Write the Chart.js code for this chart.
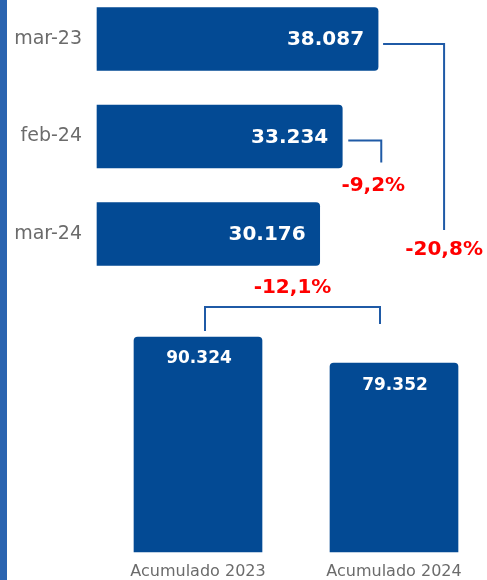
<!DOCTYPE html>
<html><head><meta charset="utf-8">
<script src="https://cdn.jsdelivr.net/npm/chart.js@4/dist/chart.umd.min.js"></script>
<style>
html,body{margin:0;padding:0;background:#fff;}
body{width:487px;height:580px;position:relative;overflow:hidden;}
#strip{position:absolute;left:0;top:0;width:7px;height:580px;background:#2a64b0;}
#c1{position:absolute;left:0;top:0;}
#c2{position:absolute;left:0;top:260px;}
</style></head><body>
<div id="strip"></div>
<canvas id="c1" width="487" height="290"></canvas>
<canvas id="c2" width="487" height="323"></canvas>
<script>
const monthLabels = ['mar-23', 'feb-24', 'mar-24'];
const monthValues = [38087, 33234, 30176];
const accLabels = ['Acumulado 2023', 'Acumulado 2024'];
const accValues = [90324, 79352];

const BAR = '#034a94';
const LINE = '#1f5aa6';
const RED = '#ff0000';
const GRAY = '#6b6b6b';

function fmtNum(v) { return String(v).replace(/\B(?=(\d{3})+(?!\d))/g, '.'); }
function fmtPct(a, b) { return ((b - a) / a * 100).toFixed(1).replace('.', ',') + '%'; }

const monthPlugin = {
  id: 'monthLabels',
  afterDatasetsDraw(chart) {
    const ctx = chart.ctx;
    const bars = chart.getDatasetMeta(0).data;
    ctx.save();
    ctx.fillStyle = '#ffffff';
    ctx.font = 'bold 20px "DejaVu Sans"';
    ctx.textAlign = 'right';
    ctx.textBaseline = 'middle';
    bars.forEach((b, i) => ctx.fillText(fmtNum(monthValues[i]), b.x - 14, b.y + 1));

    ctx.strokeStyle = LINE;
    ctx.lineWidth = 2;
    const b0 = bars[0], b1 = bars[1], b2 = bars[2];
    const xA = b0.x + 66;
    ctx.beginPath();
    ctx.moveTo(b0.x + 5, b0.y + 5);
    ctx.lineTo(xA, b0.y + 5);
    ctx.lineTo(xA, b2.y - 4);
    ctx.stroke();
    const xB = b1.x + 39;
    ctx.beginPath();
    ctx.moveTo(b1.x + 6, b1.y + 4);
    ctx.lineTo(xB, b1.y + 4);
    ctx.lineTo(xB, b1.y + 26);
    ctx.stroke();

    ctx.fillStyle = RED;
    ctx.font = 'bold 20px "DejaVu Sans"';
    ctx.textAlign = 'center';
    ctx.fillText(fmtPct(monthValues[0], monthValues[2]), xA, b2.y + 16);
    ctx.fillText(fmtPct(monthValues[1], monthValues[2]), xB - 8, b1.y + 49);
    ctx.restore();
  }
};

const accPlugin = {
  id: 'accLabels',
  afterDatasetsDraw(chart) {
    const ctx = chart.ctx;
    const bars = chart.getDatasetMeta(0).data;
    ctx.save();
    ctx.fillStyle = '#ffffff';
    ctx.font = 'bold 17px "DejaVu Sans"';
    ctx.textAlign = 'center';
    ctx.textBaseline = 'middle';
    bars.forEach((b, i) => ctx.fillText(fmtNum(accValues[i]), b.x + 1, b.y + 22));

    const a = bars[0], c = bars[1];
    const xL = a.x + 7, xR = c.x - 14, yTop = a.y - 30;
    ctx.strokeStyle = LINE;
    ctx.lineWidth = 2;
    ctx.beginPath();
    ctx.moveTo(xL, a.y - 6);
    ctx.lineTo(xL, yTop);
    ctx.lineTo(xR, yTop);
    ctx.lineTo(xR, yTop + 17);
    ctx.stroke();

    ctx.fillStyle = RED;
    ctx.font = 'bold 20px "DejaVu Sans"';
    ctx.fillText(fmtPct(accValues[0], accValues[1]), (xL + xR) / 2, yTop - 19);
    ctx.restore();
  }
};

new Chart(document.getElementById('c1'), {
  type: 'bar',
  data: {
    labels: monthLabels,
    datasets: [{ data: monthValues, backgroundColor: BAR, borderRadius: 4, barThickness: 63, clip: false }]
  },
  options: {
    indexAxis: 'y',
    responsive: false,
    animation: false,
    layout: { padding: { top: 39, bottom: 56, left: 0, right: 21 } },
    plugins: { legend: { display: false }, tooltip: { enabled: false } },
    scales: {
      x: { display: false, min: 0, max: 50000 },
      y: {
        offset: false,
        grid: { display: false },
        border: { display: false },
        ticks: { color: GRAY, font: { family: 'DejaVu Sans', size: 19 }, padding: 7 },
        afterFit(s) { s.width = 97; }
      }
    }
  },
  plugins: [monthPlugin]
});

new Chart(document.getElementById('c2'), {
  type: 'bar',
  data: {
    labels: accLabels,
    datasets: [{ data: accValues, backgroundColor: BAR, borderRadius: 4, barThickness: 128, clip: false }]
  },
  options: {
    responsive: false,
    animation: false,
    layout: { padding: { top: 54, bottom: 0, left: 198, right: 93 } },
    plugins: { legend: { display: false }, tooltip: { enabled: false } },
    scales: {
      x: {
        offset: false,
        grid: { display: false },
        border: { display: false },
        ticks: { color: GRAY, font: { family: 'DejaVu Sans', size: 16 }, padding: 2, maxRotation: 0 }
      },
      y: { display: false, min: 0, max: 100000 }
    }
  },
  plugins: [accPlugin]
});
</script>
</body></html>
